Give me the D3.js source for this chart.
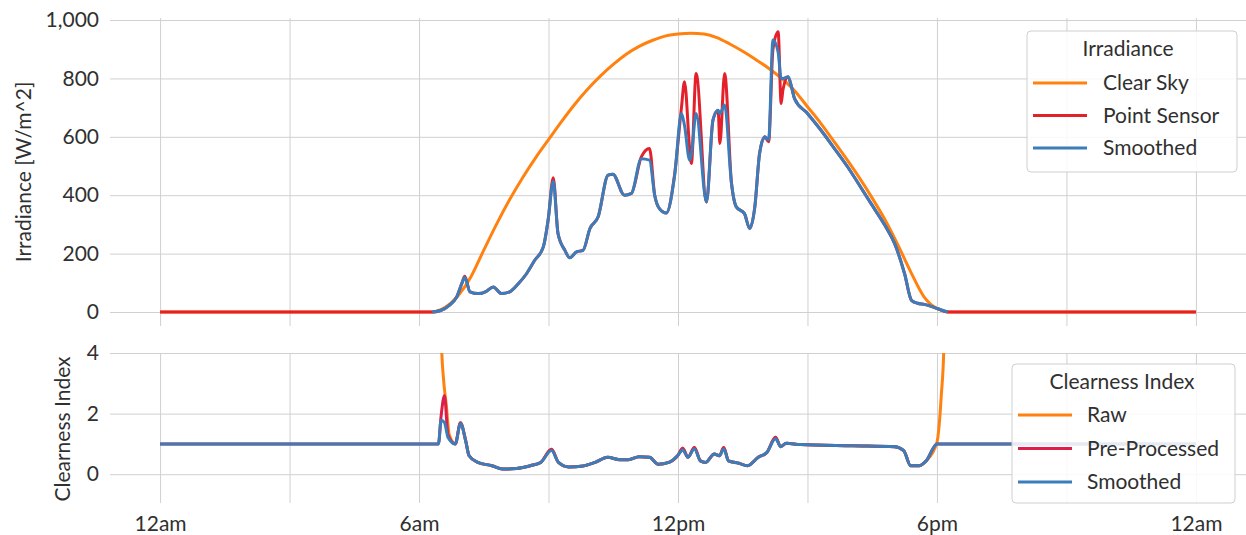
<!DOCTYPE html>
<html>
<head>
<meta charset="utf-8">
<script src="https://cdn.jsdelivr.net/npm/d3@7"></script>
<style>
    body { margin: 0; background: #fff; }
    text { font-family: Lato, "Open Sans", sans-serif; fill: #303030; }
    .grid line { stroke: #d0d0d0; stroke-width: 1; }
    .grid path, .axis path { display: none; }
</style>
</head>
<body>
<div id="chart-container"></div>
<script>

// ---- data (hours since midnight) ----
const xTickHours = [0, 6, 12, 18, 24];
const xTickLabels = ['12am', '6am', '12pm', '6pm', '12am'];
const gridHours = [0, 3, 6, 9, 12, 15, 18, 21, 24];
const irrTicks = [0, 200, 400, 600, 800, 1000];
const ciTicks = [0, 2, 4];

const clearSkyHours = [0, 6.3, 6.6, 6.9, 7.2, 7.5, 7.8, 8.1, 8.4, 8.7,
    9.0, 9.3, 9.6, 9.9, 10.2, 10.5, 10.8, 11.1, 11.4, 11.7,
    12.0, 12.3, 12.6, 12.9, 13.2, 13.5, 13.8, 14.1, 14.4, 14.7,
    15.0, 15.3, 15.6, 15.9, 16.2, 16.5, 16.8, 17.1, 17.4, 17.7,
    18.0, 18.3, 24];
const clearSky = [0, 0, 15, 55, 120, 212, 302, 385, 460, 528,
    590, 652, 710, 762, 808, 848, 883, 910, 930, 945,
    952, 955, 952, 940, 918, 893, 865, 835, 800, 758,
    703, 648, 587, 525, 460, 390, 315, 228, 135, 52,
    12, 0, 0];

const sensorHours = [0, 6.3, 6.5, 6.7, 6.87, 6.99, 7.06, 7.18, 7.37, 7.55,
    7.72, 7.91, 8.10, 8.30, 8.49, 8.68, 8.88, 8.99, 9.11, 9.22,
    9.38, 9.49, 9.65, 9.80, 9.96, 10.15, 10.38, 10.49, 10.76, 10.92,
    11.15, 11.34, 11.46, 11.57, 11.73, 11.92, 12.08, 12.15, 12.27, 12.31,
    12.42, 12.66, 12.81, 12.93, 12.97, 13.08, 13.24, 13.35, 13.54, 13.66,
    13.78, 13.89, 14.01, 14.10, 14.20, 14.32, 14.39, 14.43, 14.55, 14.63,
    14.70, 15.0, 15.3, 15.6, 15.94, 16.2, 16.5, 16.8, 17.02, 17.25,
    17.41, 17.55, 17.71, 18.02, 18.25, 24];
const pointSensor = [0, 0, 5, 23, 51, 97, 122, 69, 63, 70,
    86, 63, 69, 97, 131, 177, 223, 314, 460, 269,
    211, 186, 206, 211, 286, 326, 469, 472, 400, 406,
    531, 560, 400, 354, 339, 470, 700, 789, 560, 509,
    817, 377, 657, 691, 577, 817, 440, 360, 337, 286,
    360, 543, 600, 583, 900, 960, 714, 760, 806, 771,
    731, 680, 625, 565, 495, 435, 365, 295, 234, 131,
    40, 30, 26, 11, 0, 0];
const smoothedIrr = [null, 0, 5, 23, 51, 97, 118, 69, 63, 70,
    86, 63, 69, 97, 131, 177, 223, 314, 448, 269,
    211, 186, 206, 211, 286, 326, 469, 472, 400, 406,
    525, 520, 400, 354, 339, 465, 680, 640, 520, 540,
    680, 377, 657, 691, 680, 709, 440, 360, 337, 286,
    360, 543, 600, 590, 932, 890, 800, 800, 806, 771,
    731, 680, 625, 565, 495, 435, 365, 295, 234, 131,
    40, 30, 26, 11, 0, null];

const ciHours = [0, 6.45, 6.51, 6.59, 6.67, 6.84, 6.96, 7.08, 7.16, 7.36,
    7.69, 7.93, 8.26, 8.58, 8.82, 9.07, 9.23, 9.47, 9.80, 10.08,
    10.37, 10.65, 10.85, 11.10, 11.34, 11.54, 11.79, 11.99, 12.11, 12.23,
    12.38, 12.52, 12.64, 12.84, 12.96, 13.06, 13.17, 13.41, 13.61, 13.86,
    14.06, 14.26, 14.38, 14.51, 14.83, 16.05, 17.02, 17.23, 17.39, 17.59,
    17.75, 18.0, 24];
const preProcessed = [1, 1, 1.9, 2.6, 1.3, 1.0, 1.7, 1.11, 0.61, 0.39,
    0.28, 0.17, 0.19, 0.28, 0.39, 0.82, 0.39, 0.24, 0.27, 0.39,
    0.56, 0.48, 0.48, 0.58, 0.56, 0.33, 0.39, 0.61, 0.86, 0.56,
    0.88, 0.44, 0.39, 0.67, 0.61, 0.88, 0.44, 0.36, 0.28, 0.56,
    0.72, 1.22, 0.91, 1.02, 0.98, 0.94, 0.91, 0.78, 0.28, 0.28,
    0.44, 1.0, 1.0];
const smoothedCi = [1, 1, 1.78, 1.7, 1.22, 1.0, 1.67, 1.11, 0.61, 0.39,
    0.28, 0.17, 0.19, 0.28, 0.39, 0.78, 0.39, 0.24, 0.27, 0.39,
    0.56, 0.48, 0.48, 0.58, 0.56, 0.33, 0.39, 0.61, 0.80, 0.56,
    0.83, 0.44, 0.39, 0.67, 0.61, 0.83, 0.44, 0.36, 0.28, 0.56,
    0.72, 1.17, 0.91, 1.02, 0.98, 0.94, 0.91, 0.78, 0.28, 0.28,
    0.44, 1.0, 1.0];

const rawHours = [6.47, 6.52, 6.57, 6.63, 6.7, 6.84, 6.96, 7.08, 7.16, 7.36,
    7.69, 7.93, 8.26, 8.58, 8.82, 9.07, 9.23, 9.47, 9.80, 10.08,
    10.37, 10.65, 10.85, 11.10, 11.34, 11.54, 11.79, 11.99, 12.11, 12.23,
    12.38, 12.52, 12.64, 12.84, 12.96, 13.06, 13.17, 13.41, 13.61, 13.86,
    14.06, 14.26, 14.38, 14.51, 14.83, 16.05, 17.02, 17.23, 17.39, 17.59,
    17.75, 18.0, 18.05, 18.1, 18.16, 18.22];
const rawCi = [9, 4.3, 3.1, 2.3, 1.3, 1.0, 1.7, 1.11, 0.61, 0.39,
    0.28, 0.17, 0.19, 0.28, 0.39, 0.82, 0.39, 0.24, 0.27, 0.39,
    0.56, 0.48, 0.48, 0.58, 0.56, 0.33, 0.39, 0.61, 0.86, 0.56,
    0.88, 0.44, 0.39, 0.67, 0.61, 0.88, 0.44, 0.36, 0.28, 0.56,
    0.72, 1.22, 0.91, 1.02, 0.98, 0.94, 0.91, 0.78, 0.28, 0.28,
    0.44, 1.05, 1.6, 2.6, 4.2, 9];

const colors = { orange: '#ff8210', red: '#e4202a', crimson: '#dc1f48', blue: '#3a7dba' };

const width = 1246, height = 535;
const plotLeft = 110, plotRight = 1246;
const topPanel = { top: 18, bottom: 326 };
const botPanel = { top: 353, bottom: 503 };

const svg = d3.select('#chart-container')
    .append('svg')
    .attr('width', width)
    .attr('height', height);

const xScale = d3.scaleLinear().domain([-1.16, 25.16]).range([plotLeft, plotRight]);
const yIrr = d3.scaleLinear().domain([-48, 1007]).range([topPanel.bottom, topPanel.top]);
const yCi = d3.scaleLinear().domain([-0.95, 4]).range([botPanel.bottom, botPanel.top]);

const zip = (xs, ys) => xs.map((h, i) => ({ h: h, v: ys[i] }));

const drawPanel = (panel, yScale, ticks, id) => {
    const g = svg.append('g');
    g.append('g')
        .attr('class', 'grid')
        .attr('transform', `translate(0,${panel.bottom})`)
        .call(d3.axisBottom(xScale).tickValues(gridHours).tickSize(-(panel.bottom - panel.top)).tickFormat(''));
    g.append('g')
        .attr('class', 'grid')
        .attr('transform', `translate(${plotLeft},0)`)
        .call(d3.axisLeft(yScale).tickValues(ticks).tickSize(-(plotRight - plotLeft)).tickFormat(''));
    g.append('g')
        .attr('class', 'axis')
        .attr('transform', `translate(${plotLeft},0)`)
        .call(d3.axisLeft(yScale).tickValues(ticks).tickSize(0).tickPadding(11).tickFormat(d3.format(',')))
        .call(a => a.selectAll('text').style('font-size', '21px').attr('fill', '#303030'));

    svg.append('clipPath').attr('id', id)
        .append('rect')
        .attr('x', plotLeft).attr('y', panel.top)
        .attr('width', plotRight - plotLeft).attr('height', panel.bottom - panel.top);

    return g.append('g').attr('clip-path', `url(#${id})`);
};

const addLine = (g, data, yScale, color) => {
    const line = d3.line()
        .defined(d => d.v !== null)
        .x(d => xScale(d.h))
        .y(d => yScale(d.v))
        .curve(d3.curveMonotoneX);
    g.append('path')
        .datum(data)
        .attr('fill', 'none')
        .attr('stroke', color)
        .attr('stroke-width', 3)
        .attr('stroke-linejoin', 'round')
        .attr('d', line);
};

// top panel: irradiance
const gTop = drawPanel(topPanel, yIrr, irrTicks, 'clip-top');
addLine(gTop, zip(clearSkyHours, clearSky), yIrr, colors.orange);
addLine(gTop, zip(sensorHours, pointSensor), yIrr, colors.red);
addLine(gTop, zip(sensorHours, smoothedIrr), yIrr, colors.blue);

// bottom panel: clearness index
const gBot = drawPanel(botPanel, yCi, ciTicks, 'clip-bot');
addLine(gBot, zip(rawHours, rawCi), yCi, colors.orange);
addLine(gBot, zip(ciHours, preProcessed), yCi, colors.crimson);
addLine(gBot, zip(ciHours, smoothedCi), yCi, colors.blue);

// x axis labels under the bottom panel
svg.append('g')
    .attr('class', 'axis')
    .attr('transform', `translate(0,${botPanel.bottom})`)
    .call(d3.axisBottom(xScale).tickValues(xTickHours).tickSize(0).tickPadding(13)
        .tickFormat((d, i) => xTickLabels[i]))
    .call(a => a.selectAll('text').style('font-size', '21px').attr('fill', '#303030'));

// y labels
svg.append('text')
    .attr('transform', `translate(31,${(topPanel.top + topPanel.bottom) / 2}) rotate(-90)`)
    .attr('text-anchor', 'middle')
    .style('font-size', '21px')
    .text('Irradiance [W/m^2]');
svg.append('text')
    .attr('transform', `translate(70,${(botPanel.top + botPanel.bottom) / 2 + 1}) rotate(-90)`)
    .attr('text-anchor', 'middle')
    .style('font-size', '21px')
    .text('Clearness Index');

// legends
const legend = (box, title, items) => {
    const g = svg.append('g');
    g.append('rect')
        .attr('x', box.x).attr('y', box.y)
        .attr('width', box.w).attr('height', box.h)
        .attr('rx', 4)
        .attr('fill', '#fff').attr('fill-opacity', 0.85)
        .attr('stroke', '#cfcfcf');
    g.append('text')
        .attr('x', box.x + box.titleX).attr('y', box.y + 25)
        .attr('text-anchor', 'middle')
        .style('font-size', '21px')
        .text(title);
    items.forEach((it, i) => {
        const yy = box.y + box.firstRow + i * box.rowStep;
        g.append('line')
            .attr('x1', box.x + 6).attr('x2', box.x + 60)
            .attr('y1', yy).attr('y2', yy)
            .attr('stroke', it.color).attr('stroke-width', 3);
        g.append('text')
            .attr('x', box.x + box.textX).attr('y', yy)
            .attr('dy', '0.35em')
            .style('font-size', '21px')
            .text(it.name);
    });
};

legend({ x: 1027, y: 31, w: 210, h: 141, titleX: 101, textX: 76, firstRow: 52, rowStep: 32.5 },
    'Irradiance',
    [{ name: 'Clear Sky', color: colors.orange },
     { name: 'Point Sensor', color: colors.red },
     { name: 'Smoothed', color: colors.blue }]);

legend({ x: 1012, y: 364, w: 223, h: 139, titleX: 110, textX: 75, firstRow: 51, rowStep: 33.5 },
    'Clearness Index',
    [{ name: 'Raw', color: colors.orange },
     { name: 'Pre-Processed', color: colors.crimson },
     { name: 'Smoothed', color: colors.blue }]);

</script>
</body>
</html>
